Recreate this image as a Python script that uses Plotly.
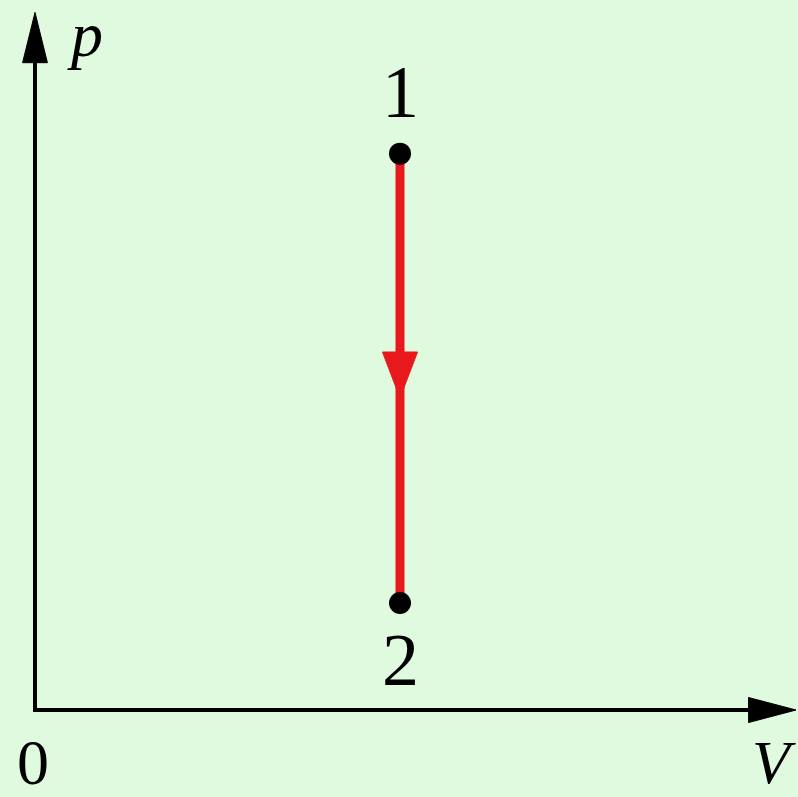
import plotly.graph_objects as go

# state points on the p-V diagram
V_states = [1.0, 1.0]
p_states = [5.2, 1.0]
state_labels = ["1", "2"]

# axis extents (data units)
V_axis_end = 2.085
p_axis_end = 6.52

BG = "#e0fae0"
RED = "#e8181c"
FONT = "Liberation Serif"

fig = go.Figure()


def head(tip_x, tip_y, dx, dy, half_w, color):
    # triangle pointing along (dx, dy) from base to tip
    if dx == 0:
        bx, by = tip_x, tip_y - dy
        xs = [tip_x, bx - half_w, bx + half_w, tip_x]
        ys = [tip_y, by, by, tip_y]
    else:
        bx, by = tip_x - dx, tip_y
        xs = [tip_x, bx, bx, tip_x]
        ys = [tip_y, by - half_w, by + half_w, tip_y]
    fig.add_trace(go.Scatter(x=xs, y=ys, mode="lines", fill="toself",
                             fillcolor=color, line=dict(color=color, width=1),
                             hoverinfo="skip", showlegend=False))


# axes
fig.add_trace(go.Scatter(x=[0, 0, V_axis_end - 0.1], y=[p_axis_end - 0.4, 0, 0],
                         mode="lines", line=dict(color="black", width=4),
                         hoverinfo="skip", showlegend=False))
head(0, p_axis_end, 0, 0.47, 0.034, "black")
head(V_axis_end, 0, 0.13, 0, 0.117, "black")

# process 1 -> 2 (isochoric, pressure falls)
fig.add_trace(go.Scatter(x=V_states, y=p_states, mode="lines",
                         line=dict(color=RED, width=9),
                         hoverinfo="skip", showlegend=False))
mid_tip = 2.916
head(V_states[0], mid_tip, 0, -0.43, 0.048, RED)

fig.add_trace(go.Scatter(x=V_states, y=p_states, mode="markers",
                         marker=dict(color="black", size=22),
                         hoverinfo="skip", showlegend=False))

for v, p, lab, sh in zip(V_states, p_states, state_labels, [62, -57]):
    fig.add_annotation(x=v, y=p, text=lab, showarrow=False, yshift=sh,
                       font=dict(family=FONT, size=74, color="black"))

fig.add_annotation(x=0, y=p_axis_end, text="<i>p</i>", showarrow=False,
                   xshift=50, yshift=-22, font=dict(family=FONT, size=64, color="black"))
fig.add_annotation(x=V_axis_end, y=0, text="<i>V</i>", showarrow=False,
                   xshift=-22, yshift=-52, font=dict(family=FONT, size=62, color="black"))
fig.add_annotation(x=0, y=0, text="0", showarrow=False,
                   xshift=-2, yshift=-52, font=dict(family=FONT, size=64, color="black"))

fig.update_layout(
    width=798, height=797,
    margin=dict(l=0, r=0, t=0, b=0),
    paper_bgcolor=BG, plot_bgcolor=BG,
    xaxis=dict(range=[-0.0959, 2.0904], visible=False, fixedrange=True),
    yaxis=dict(range=[-0.813, 6.636], visible=False, fixedrange=True),
    showlegend=False,
)

fig.write_html("out.html", config={"displayModeBar": False},
               post_script="document.body.style.margin='0';")
